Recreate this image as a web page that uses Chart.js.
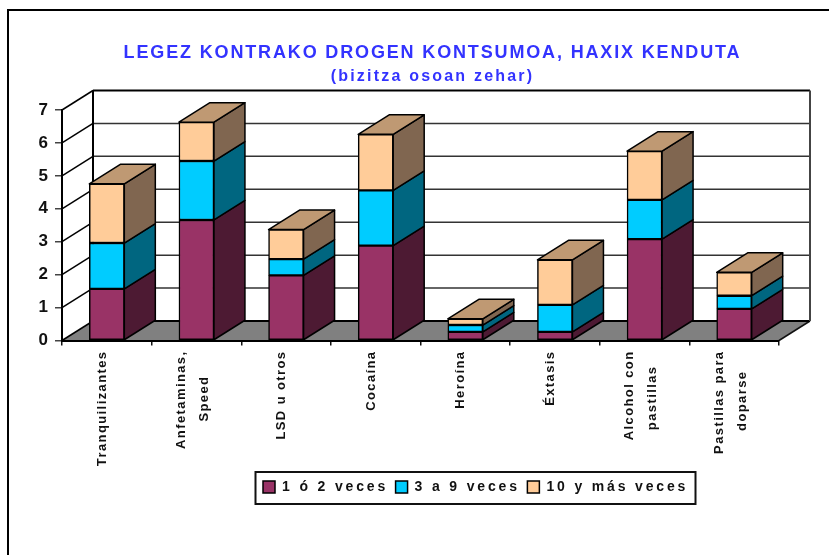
<!DOCTYPE html>
<html>
<head>
<meta charset="utf-8">
<style>html,body{margin:0;padding:0;background:#fff}canvas{display:block}</style>
<script src="https://cdn.jsdelivr.net/npm/chart.js@4"></script>
</head>
<body>
<canvas id="c" width="829" height="555"></canvas>
<script>
const categories = [['Tranquilizantes'], ['Anfetaminas,', 'Speed'], ['LSD u otros'], ['Cocaína'], ['Heroína'], ['Éxtasis'], ['Alcohol con', 'pastillas'], ['Pastillas para', 'doparse']];
const seriesNames = ['1 ó 2 veces', '3 a 9 veces', '10 y más veces'];
const series1 = [1.57, 3.66, 1.98, 2.88, 0.26, 0.26, 3.08, 0.96];
const series2 = [1.39, 1.79, 0.49, 1.68, 0.21, 0.82, 1.19, 0.40];
const series3 = [1.80, 1.18, 0.90, 1.70, 0.19, 1.37, 1.48, 0.71];
const frontColors = ['#993366', '#00CCFF', '#FFCC99'];
const sideColors = ['#4D1A33', '#006680', '#806650'];
const topColor = '#BF9973';
const titleText = 'LEGEZ KONTRAKO DROGEN KONTSUMOA, HAXIX KENDUTA';
const subtitleText = '(bizitza osoan zehar)';
const FAMILY = "'Liberation Sans', Arial, sans-serif";
const DX = 31, DY = -19.5;

const canvas = document.getElementById('c');
const ctx = canvas.getContext('2d');
const spacingBySize = { 18: '1.85px', 17: '0px', 16: '2.2px', 14: '2.85px', 13: '1.4px' };
function applySpacing() {
  const m = /(\d+(?:\.\d+)?)px/.exec(ctx.font);
  ctx.letterSpacing = (m && spacingBySize[+m[1]]) || '0px';
}
const nativeFill = ctx.fillText.bind(ctx);
const nativeMeasure = ctx.measureText.bind(ctx);
ctx.fillText = (...a) => { applySpacing(); return nativeFill(...a); };
ctx.measureText = (...a) => { applySpacing(); return nativeMeasure(...a); };

function centred(lines) {
  ctx.save();
  ctx.font = 'bold 13px ' + FAMILY;
  const widths = lines.map(l => ctx.measureText(l).width);
  const space = ctx.measureText(' ').width;
  const max = Math.max(...widths);
  const out = lines.map((l, i) => l + ' '.repeat(Math.round((max - widths[i]) / 2 / space)));
  ctx.restore();
  return out;
}

const solid3d = {
  id: 'solid3d',
  beforeDraw(chart) {
    const c = chart.ctx;
    c.save();
    c.fillStyle = '#fff';
    c.fillRect(0, 0, chart.width, chart.height);
    c.strokeStyle = '#000';
    c.lineWidth = 2;
    c.beginPath();
    c.moveTo(8, 555); c.lineTo(8, 10); c.lineTo(829, 10);
    c.stroke();
    c.restore();
    chart.scales.x.getLabelItems().forEach(it => {
      if (Array.isArray(it.label) && it.label.length > 1 && !it.__moved) {
        it.options.translation[0] -= 10.5;
        it.__moved = true;
      }
    });
  },
  afterLayout(chart) {
    const l = chart.legend;
    l.left = 255.5; l.right = 780; l.top = 472.5; l.bottom = 504;
    l.width = 524.5; l.height = 31.5;
    chart.boxes.forEach(b => {
      if (b.options && b.options.text !== undefined && b !== l) { b.left += 43; b.right += 43; }
    });
  },
  beforeDatasetsDraw(chart) {
    const c = chart.ctx, y = chart.scales.y, a = chart.chartArea;
    const floorY = y.getPixelForValue(0);
    c.save();
    // floor
    c.fillStyle = '#808080';
    c.beginPath();
    c.moveTo(a.left, floorY); c.lineTo(a.right, floorY);
    c.lineTo(a.right + DX, floorY + DY); c.lineTo(a.left + DX, floorY + DY);
    c.closePath(); c.fill();
    c.strokeStyle = '#111'; c.lineWidth = 1.5;
    c.beginPath();
    c.moveTo(a.right, floorY); c.lineTo(a.right + DX, floorY + DY);
    c.stroke();
    // wall gridlines and side diagonals
    y.ticks.forEach(t => {
      const p = y.getPixelForValue(t.value);
      c.strokeStyle = t.value === 0 ? '#000' : (t.value === y.max ? '#000' : '#333');
      c.lineWidth = t.value === 0 || t.value === y.max ? 2 : 1.5;
      c.beginPath();
      c.moveTo(a.left + DX, p + DY); c.lineTo(a.right + DX, p + DY);
      c.stroke();
      c.strokeStyle = '#000'; c.lineWidth = 1.5;
      c.beginPath();
      c.moveTo(a.left, p); c.lineTo(a.left + DX, p + DY);
      c.stroke();
    });
    const top = y.getPixelForValue(y.max) + DY, bot = floorY + DY;
    c.strokeStyle = '#000'; c.lineWidth = 2;
    c.beginPath(); c.moveTo(a.left + DX, top); c.lineTo(a.left + DX, bot); c.stroke();
    c.strokeStyle = '#444';
    c.beginPath(); c.moveTo(a.right + DX, top); c.lineTo(a.right + DX, bot); c.stroke();
    // bar sides and tops, from the bar elements
    c.strokeStyle = '#000'; c.lineWidth = 1.5; c.lineJoin = 'round';
    chart.data.datasets.forEach((ds, i) => {
      chart.getDatasetMeta(i).data.forEach(b => {
        const r = b.x + b.width / 2, l = b.x - b.width / 2;
        c.fillStyle = sideColors[i];
        c.beginPath();
        c.moveTo(r, b.y); c.lineTo(r + DX, b.y + DY);
        c.lineTo(r + DX, b.base + DY); c.lineTo(r, b.base);
        c.closePath(); c.fill(); c.stroke();
        if (i === chart.data.datasets.length - 1) {
          c.fillStyle = topColor;
          c.beginPath();
          c.moveTo(l, b.y); c.lineTo(r, b.y);
          c.lineTo(r + DX, b.y + DY); c.lineTo(l + DX, b.y + DY);
          c.closePath(); c.fill(); c.stroke();
        }
      });
    });
    c.restore();
  },
  afterDraw(chart) {
    const c = chart.ctx;
    c.save();
    c.strokeStyle = '#111'; c.lineWidth = 2;
    c.strokeRect(255.5, 472, 440, 32);
    c.restore();
  }
};

const seriesValues = [series1, series2, series3];
new Chart(ctx, {
  type: 'bar',
  data: {
    labels: categories,
    datasets: seriesValues.map((v, i) => ({
      label: seriesNames[i], data: v,
      backgroundColor: frontColors[i], borderColor: '#000', borderWidth: 1.5,
      borderSkipped: false, barThickness: 35
    }))
  },
  options: {
    responsive: false, animation: false, devicePixelRatio: 1,
    layout: { padding: { left: 0, right: 50, top: 0, bottom: 33 } },
    plugins: {
      title: { display: true, text: titleText, color: '#3333FF',
        font: { family: FAMILY, size: 18, weight: 'bold', lineHeight: 1.2 },
        padding: { top: 42.2, bottom: 0 } },
      subtitle: { display: true, text: subtitleText, color: '#3333FF',
        font: { family: FAMILY, size: 16, weight: 'bold', lineHeight: 1.2 },
        padding: { top: 3.1, bottom: 23.9 } },
      legend: { position: 'bottom', align: 'start',
        labels: { boxWidth: 12, boxHeight: 12, padding: 7.5, color: '#111',
          font: { family: FAMILY, size: 14, weight: 'bold', lineHeight: 1.2 } } },
      tooltip: { enabled: false }
    },
    scales: {
      x: {
        stacked: true,
        afterFit(s) { s.height = 150; },
        grid: { offset: true, drawOnChartArea: false, color: '#111', lineWidth: 1.5, tickLength: 5 },
        border: { color: '#000', width: 2, z: 1 },
        ticks: { minRotation: 90, maxRotation: 90, autoSkip: false, padding: 5, labelOffset: -4.5, color: '#111',
          font: { family: FAMILY, size: 13, weight: 'bold', lineHeight: 23 / 13 },
          callback(v, i) { return centred(categories[i]); } }
      },
      y: {
        stacked: true, min: 0, max: 7,
        afterFit(s) { s.width = 62; },
        grid: { drawOnChartArea: false, color: '#444', lineWidth: 1.5, tickLength: 7 },
        border: { color: '#000', width: 2 },
        ticks: { stepSize: 1, padding: 7, color: '#111',
          font: { family: FAMILY, size: 17, weight: 'bold' } }
      }
    }
  },
  plugins: [solid3d]
});
</script>
</body>
</html>
